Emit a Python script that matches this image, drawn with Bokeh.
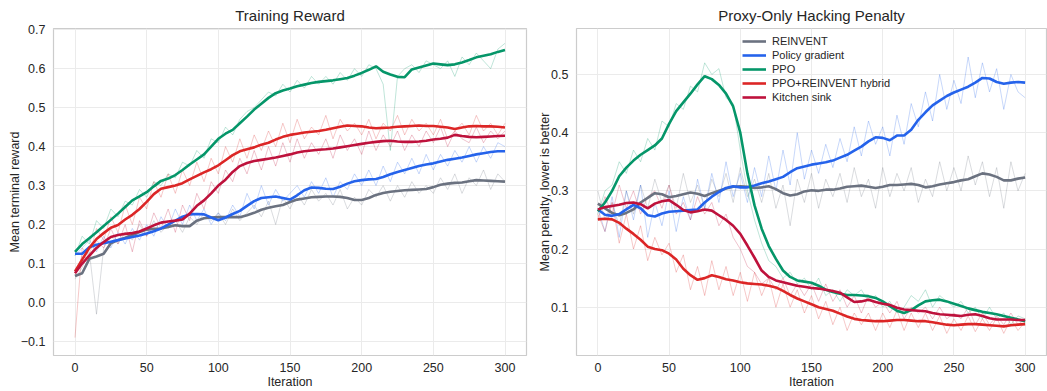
from bokeh.plotting import figure
from bokeh.layouts import row
from bokeh.models import Range1d, FixedTicker
from bokeh.embed import file_html
from bokeh.resources import INLINE

# ---------------- data ----------------
iterations = list(range(0, 301, 5))
methods = ["REINVENT", "Policy gradient", "PPO", "PPO+REINVENT hybrid", "Kitchen sink"]
colors = ["#6b7280", "#2563eb", "#059669", "#dc2626", "#be123c"]

x_ticks = [0, 50, 100, 150, 200, 250, 300]
x_tick_labels = ["0", "50", "100", "150", "200", "250", "300"]
reward_y_ticks = [-0.1, 0.0, 0.1, 0.2, 0.3, 0.4, 0.5, 0.6, 0.7]
reward_y_tick_labels = ["\u22120.1", "0.0", "0.1", "0.2", "0.3", "0.4", "0.5", "0.6", "0.7"]
penalty_y_ticks = [0.1, 0.2, 0.3, 0.4, 0.5]
penalty_y_tick_labels = ["0.1", "0.2", "0.3", "0.4", "0.5"]

# ---- Training reward: smoothed ----
reward_smooth_reinvent = [
    0.068, 0.075, 0.112, 0.118, 0.125, 0.152, 0.160, 0.166, 0.173, 0.181,
    0.187, 0.189, 0.190, 0.194, 0.198, 0.196, 0.196, 0.210, 0.216, 0.218,
    0.219, 0.219, 0.219, 0.219, 0.224, 0.230, 0.238, 0.243, 0.247, 0.250,
    0.258, 0.264, 0.267, 0.270, 0.271, 0.272, 0.272, 0.271, 0.268, 0.263,
    0.263, 0.268, 0.276, 0.281, 0.284, 0.286, 0.288, 0.289, 0.290, 0.291,
    0.296, 0.302, 0.305, 0.307, 0.308, 0.311, 0.314, 0.313, 0.312, 0.311,
    0.310]
reward_smooth_pg = [
    0.125, 0.125, 0.142, 0.148, 0.152, 0.156, 0.160, 0.164, 0.168, 0.172,
    0.177, 0.183, 0.190, 0.200, 0.210, 0.220, 0.226, 0.227, 0.226, 0.218,
    0.211, 0.218, 0.227, 0.235, 0.248, 0.260, 0.268, 0.270, 0.272, 0.268,
    0.264, 0.275, 0.288, 0.295, 0.294, 0.292, 0.291, 0.297, 0.305, 0.311,
    0.314, 0.316, 0.317, 0.322, 0.329, 0.335, 0.340, 0.345, 0.350, 0.354,
    0.357, 0.362, 0.366, 0.369, 0.372, 0.376, 0.380, 0.383, 0.386, 0.388,
    0.388]
reward_smooth_ppo = [
    0.130, 0.150, 0.165, 0.180, 0.196, 0.212, 0.228, 0.245, 0.262, 0.272,
    0.283, 0.298, 0.312, 0.318, 0.327, 0.340, 0.354, 0.367, 0.380, 0.400,
    0.420, 0.433, 0.443, 0.460, 0.477, 0.495, 0.510, 0.525, 0.537, 0.544,
    0.549, 0.555, 0.559, 0.563, 0.566, 0.568, 0.570, 0.573, 0.576, 0.582,
    0.589, 0.597, 0.606, 0.592, 0.585, 0.579, 0.578, 0.598, 0.603, 0.608,
    0.613, 0.611, 0.609, 0.611, 0.616, 0.622, 0.629, 0.633, 0.637, 0.643,
    0.648]
reward_smooth_hybrid = [
    0.080, 0.110, 0.140, 0.163, 0.178, 0.192, 0.199, 0.213, 0.225, 0.240,
    0.258, 0.278, 0.292, 0.296, 0.300, 0.306, 0.316, 0.325, 0.334, 0.342,
    0.352, 0.365, 0.378, 0.388, 0.393, 0.398, 0.405, 0.410, 0.418, 0.425,
    0.430, 0.433, 0.436, 0.438, 0.440, 0.443, 0.447, 0.451, 0.454, 0.453,
    0.452, 0.449, 0.447, 0.448, 0.449, 0.451, 0.452, 0.453, 0.454, 0.453,
    0.453, 0.451, 0.449, 0.445, 0.449, 0.452, 0.453, 0.452, 0.452, 0.451,
    0.449]
reward_smooth_kitchen = [
    0.075, 0.100, 0.120, 0.140, 0.155, 0.168, 0.173, 0.176, 0.178, 0.182,
    0.190, 0.198, 0.205, 0.208, 0.210, 0.213, 0.228, 0.248, 0.262, 0.280,
    0.300, 0.315, 0.335, 0.350, 0.358, 0.363, 0.366, 0.369, 0.372, 0.376,
    0.380, 0.385, 0.388, 0.390, 0.392, 0.393, 0.395, 0.398, 0.401, 0.404,
    0.407, 0.410, 0.412, 0.414, 0.415, 0.413, 0.412, 0.412, 0.413, 0.415,
    0.418, 0.420, 0.423, 0.430, 0.427, 0.425, 0.424, 0.425, 0.426, 0.427,
    0.428]

# ---- Training reward: raw ----
reward_raw_reinvent = [
    0.060, 0.090, 0.130, -0.030, 0.140, 0.170, 0.150, 0.180, 0.160, 0.200,
    0.170, 0.210, 0.180, 0.200, 0.210, 0.180, 0.220, 0.200, 0.230, 0.210,
    0.230, 0.200, 0.240, 0.210, 0.230, 0.250, 0.220, 0.260, 0.200, 0.270,
    0.240, 0.280, 0.250, 0.290, 0.260, 0.280, 0.250, 0.290, 0.240, 0.270,
    0.250, 0.290, 0.270, 0.300, 0.260, 0.300, 0.270, 0.310, 0.280, 0.300,
    0.280, 0.320, 0.290, 0.330, 0.280, 0.320, 0.300, 0.340, 0.290, 0.330,
    0.310]
reward_raw_pg = [
    0.120, 0.140, 0.160, 0.130, 0.170, 0.140, 0.180, 0.150, 0.190, 0.160,
    0.200, 0.170, 0.220, 0.190, 0.240, 0.200, 0.250, 0.210, 0.240, 0.200,
    0.230, 0.210, 0.250, 0.220, 0.280, 0.240, 0.300, 0.250, 0.290, 0.260,
    0.280, 0.300, 0.270, 0.310, 0.280, 0.320, 0.270, 0.310, 0.290, 0.330,
    0.300, 0.340, 0.300, 0.350, 0.310, 0.360, 0.330, 0.370, 0.330, 0.380,
    0.340, 0.380, 0.350, 0.390, 0.360, 0.400, 0.360, 0.400, 0.370, 0.410,
    0.400]
reward_raw_ppo = [
    0.120, 0.170, 0.150, 0.210, 0.190, 0.240, 0.220, 0.260, 0.250, 0.290,
    0.270, 0.310, 0.300, 0.330, 0.320, 0.360, 0.350, 0.390, 0.370, 0.420,
    0.410, 0.450, 0.430, 0.470, 0.490, 0.500, 0.520, 0.540, 0.530, 0.560,
    0.540, 0.570, 0.550, 0.580, 0.560, 0.580, 0.560, 0.590, 0.570, 0.600,
    0.580, 0.610, 0.600, 0.560, 0.390, 0.580, 0.600, 0.610, 0.590, 0.620,
    0.610, 0.600, 0.620, 0.580, 0.630, 0.610, 0.640, 0.620, 0.600, 0.650,
    0.665]
reward_raw_hybrid = [
    -0.090, 0.140, 0.120, 0.190, 0.160, 0.220, 0.180, 0.250, 0.200, 0.270,
    0.240, 0.310, 0.270, 0.330, 0.280, 0.340, 0.300, 0.360, 0.310, 0.370,
    0.330, 0.400, 0.360, 0.420, 0.370, 0.430, 0.390, 0.440, 0.400, 0.460,
    0.410, 0.470, 0.420, 0.450, 0.430, 0.480, 0.420, 0.470, 0.440, 0.460,
    0.430, 0.470, 0.420, 0.460, 0.440, 0.480, 0.430, 0.470, 0.440, 0.460,
    0.430, 0.470, 0.420, 0.440, 0.460, 0.430, 0.480, 0.440, 0.460, 0.430,
    0.460]
reward_raw_kitchen = [
    0.070, 0.120, 0.110, 0.160, 0.140, 0.190, 0.150, 0.200, 0.130, 0.210,
    0.170, 0.230, 0.190, 0.240, 0.180, 0.250, 0.210, 0.280, 0.240, 0.310,
    0.280, 0.340, 0.310, 0.370, 0.330, 0.390, 0.340, 0.400, 0.350, 0.410,
    0.360, 0.420, 0.370, 0.410, 0.380, 0.420, 0.370, 0.430, 0.390, 0.420,
    0.380, 0.440, 0.390, 0.430, 0.400, 0.440, 0.390, 0.430, 0.400, 0.440,
    0.410, 0.450, 0.400, 0.440, 0.420, 0.410, 0.450, 0.410, 0.440, 0.420,
    0.440]

# ---- Proxy-only hacking penalty: smoothed ----
penalty_smooth_reinvent = [
    0.278, 0.270, 0.262, 0.258, 0.262, 0.268, 0.280, 0.288, 0.296, 0.294,
    0.289, 0.291, 0.294, 0.297, 0.295, 0.291, 0.296, 0.300, 0.304, 0.307,
    0.308, 0.307, 0.305, 0.306, 0.308, 0.303, 0.296, 0.292, 0.294, 0.299,
    0.301, 0.300, 0.302, 0.302, 0.304, 0.307, 0.308, 0.309, 0.307, 0.305,
    0.307, 0.310, 0.310, 0.311, 0.312, 0.310, 0.306, 0.308, 0.311, 0.313,
    0.315, 0.318, 0.320, 0.325, 0.330, 0.328, 0.324, 0.318, 0.318, 0.321,
    0.323]
penalty_smooth_pg = [
    0.268, 0.259, 0.257, 0.260, 0.268, 0.276, 0.270, 0.258, 0.256, 0.261,
    0.264, 0.265, 0.266, 0.267, 0.268, 0.280, 0.290, 0.298, 0.305, 0.308,
    0.306, 0.306, 0.309, 0.313, 0.316, 0.320, 0.324, 0.332, 0.339, 0.342,
    0.345, 0.347, 0.349, 0.352, 0.357, 0.362, 0.369, 0.376, 0.385, 0.392,
    0.391, 0.387, 0.395, 0.395, 0.405, 0.422, 0.435, 0.447, 0.455, 0.463,
    0.469, 0.474, 0.479, 0.486, 0.494, 0.493, 0.487, 0.484, 0.486, 0.487,
    0.486]
penalty_smooth_ppo = [
    0.265, 0.280, 0.300, 0.325, 0.340, 0.352, 0.362, 0.370, 0.378, 0.390,
    0.415, 0.437, 0.452, 0.467, 0.483, 0.497, 0.492, 0.482, 0.467, 0.445,
    0.400, 0.330, 0.275, 0.235, 0.205, 0.183, 0.163, 0.152, 0.146, 0.144,
    0.142, 0.137, 0.130, 0.126, 0.123, 0.121, 0.121, 0.120, 0.119, 0.116,
    0.110, 0.102, 0.094, 0.090, 0.095, 0.103, 0.110, 0.112, 0.113, 0.110,
    0.106, 0.102, 0.098, 0.095, 0.092, 0.090, 0.088, 0.085, 0.082, 0.079,
    0.076]
penalty_smooth_hybrid = [
    0.251, 0.252, 0.251, 0.245, 0.235, 0.226, 0.216, 0.204, 0.200, 0.198,
    0.192, 0.182, 0.166, 0.155, 0.147, 0.150, 0.155, 0.152, 0.148, 0.146,
    0.143, 0.141, 0.140, 0.139, 0.137, 0.134, 0.128, 0.121, 0.115, 0.110,
    0.105, 0.100, 0.097, 0.094, 0.089, 0.084, 0.080, 0.078, 0.077, 0.076,
    0.076, 0.077, 0.078, 0.078, 0.077, 0.076, 0.076, 0.074, 0.072, 0.070,
    0.069, 0.070, 0.071, 0.071, 0.070, 0.069, 0.068, 0.067, 0.069, 0.070,
    0.071]
penalty_smooth_kitchen = [
    0.268, 0.272, 0.274, 0.276, 0.279, 0.280, 0.277, 0.270, 0.278, 0.282,
    0.284, 0.276, 0.267, 0.263, 0.265, 0.268, 0.266, 0.258, 0.250, 0.240,
    0.226, 0.206, 0.185, 0.163, 0.152, 0.146, 0.143, 0.140, 0.137, 0.135,
    0.133, 0.132, 0.130, 0.128, 0.125, 0.117, 0.109, 0.110, 0.113, 0.109,
    0.106, 0.104, 0.099, 0.096, 0.095, 0.094, 0.093, 0.090, 0.088, 0.087,
    0.086, 0.085, 0.087, 0.088, 0.085, 0.081, 0.079, 0.079, 0.079, 0.078,
    0.078]

# ---- Proxy-only hacking penalty: raw ----
penalty_raw_reinvent = [
    0.300, 0.250, 0.280, 0.240, 0.300, 0.260, 0.310, 0.270, 0.320, 0.280,
    0.310, 0.270, 0.330, 0.280, 0.310, 0.270, 0.320, 0.290, 0.330, 0.280,
    0.340, 0.290, 0.320, 0.280, 0.330, 0.270, 0.310, 0.240, 0.320, 0.280,
    0.330, 0.270, 0.320, 0.290, 0.330, 0.280, 0.340, 0.290, 0.320, 0.270,
    0.340, 0.290, 0.330, 0.300, 0.340, 0.280, 0.320, 0.290, 0.350, 0.300,
    0.340, 0.300, 0.360, 0.310, 0.350, 0.290, 0.340, 0.270, 0.350, 0.300,
    0.330]
penalty_raw_pg = [
    0.270, 0.230, 0.290, 0.220, 0.300, 0.250, 0.310, 0.220, 0.280, 0.240,
    0.300, 0.230, 0.290, 0.250, 0.320, 0.270, 0.330, 0.280, 0.350, 0.290,
    0.330, 0.280, 0.340, 0.290, 0.360, 0.300, 0.370, 0.310, 0.400, 0.320,
    0.370, 0.330, 0.380, 0.340, 0.390, 0.350, 0.410, 0.360, 0.420, 0.380,
    0.410, 0.360, 0.430, 0.380, 0.450, 0.410, 0.470, 0.420, 0.500, 0.440,
    0.490, 0.450, 0.530, 0.460, 0.520, 0.470, 0.510, 0.440, 0.500, 0.470,
    0.460]
penalty_raw_ppo = [
    0.260, 0.300, 0.310, 0.350, 0.330, 0.370, 0.350, 0.390, 0.370, 0.420,
    0.410, 0.450, 0.440, 0.480, 0.470, 0.520, 0.500, 0.510, 0.460, 0.450,
    0.370, 0.300, 0.250, 0.210, 0.180, 0.170, 0.150, 0.160, 0.140, 0.150,
    0.130, 0.150, 0.120, 0.130, 0.110, 0.130, 0.120, 0.130, 0.110, 0.120,
    0.100, 0.110, 0.090, 0.100, 0.120, 0.110, 0.130, 0.100, 0.120, 0.110,
    0.100, 0.110, 0.090, 0.100, 0.080, 0.100, 0.080, 0.090, 0.070, 0.085,
    0.080]
penalty_raw_hybrid = [
    0.260, 0.230, 0.280, 0.210, 0.260, 0.200, 0.240, 0.180, 0.220, 0.190,
    0.210, 0.160, 0.190, 0.130, 0.170, 0.120, 0.180, 0.130, 0.170, 0.120,
    0.160, 0.110, 0.160, 0.120, 0.150, 0.100, 0.140, 0.100, 0.130, 0.090,
    0.120, 0.080, 0.110, 0.070, 0.100, 0.060, 0.090, 0.070, 0.090, 0.060,
    0.090, 0.065, 0.095, 0.060, 0.090, 0.065, 0.090, 0.060, 0.085, 0.055,
    0.080, 0.060, 0.085, 0.058, 0.080, 0.060, 0.082, 0.055, 0.080, 0.060,
    0.075]
penalty_raw_kitchen = [
    0.250, 0.290, 0.260, 0.310, 0.270, 0.300, 0.260, 0.290, 0.300, 0.270,
    0.310, 0.260, 0.280, 0.250, 0.290, 0.260, 0.280, 0.240, 0.260, 0.220,
    0.200, 0.170, 0.160, 0.140, 0.150, 0.130, 0.150, 0.120, 0.140, 0.120,
    0.140, 0.110, 0.140, 0.110, 0.130, 0.100, 0.120, 0.090, 0.120, 0.100,
    0.110, 0.090, 0.110, 0.080, 0.100, 0.090, 0.100, 0.080, 0.100, 0.080,
    0.090, 0.080, 0.100, 0.070, 0.090, 0.070, 0.085, 0.070, 0.090, 0.070,
    0.080]

reward_smooth = [reward_smooth_reinvent, reward_smooth_pg, reward_smooth_ppo,
                 reward_smooth_hybrid, reward_smooth_kitchen]
reward_raw = [reward_raw_reinvent, reward_raw_pg, reward_raw_ppo,
              reward_raw_hybrid, reward_raw_kitchen]
penalty_smooth = [penalty_smooth_reinvent, penalty_smooth_pg, penalty_smooth_ppo,
                  penalty_smooth_hybrid, penalty_smooth_kitchen]
penalty_raw = [penalty_raw_reinvent, penalty_raw_pg, penalty_raw_ppo,
               penalty_raw_hybrid, penalty_raw_kitchen]

for group in (reward_smooth, reward_raw, penalty_smooth, penalty_raw):
    for s in group:
        assert len(s) == len(iterations), (len(s), len(iterations))

FONT = "Liberation Sans"
TEXT = "#262626"
HEIGHT = 391


def make_panel(title, ylabel, smooth, raw, yr, yticks, ylabels, width,
               border_left, border_right, legend=False):
    p = figure(width=width, height=HEIGHT, output_backend="svg", toolbar_location=None,
               x_range=Range1d(-15, 315), y_range=Range1d(*yr),
               min_border_left=border_left, min_border_right=border_right,
               min_border_top=28, min_border_bottom=0)
    p.title.text = title
    p.title.align = "center"
    p.title.text_font = FONT
    p.title.text_font_size = "15px"
    p.title.text_font_style = "normal"
    p.title.text_color = TEXT
    p.title.standoff = 9
    p.background_fill_color = "white"
    p.border_fill_color = "white"
    p.outline_line_color = "#cccccc"
    p.outline_line_width = 1.2

    for i in range(len(methods)):
        p.line(iterations, raw[i], color=colors[i], line_width=1, line_alpha=0.25)
    for i in range(len(methods)):
        kw = dict(legend_label=methods[i]) if legend else {}
        p.line(iterations, smooth[i], color=colors[i], line_width=2.6, **kw)

    p.xaxis.ticker = FixedTicker(ticks=x_ticks)
    p.xaxis.major_label_overrides = {t: l for t, l in zip(x_ticks, x_tick_labels)}
    p.yaxis.ticker = FixedTicker(ticks=yticks)
    p.yaxis.major_label_overrides = {t: l for t, l in zip(yticks, ylabels)}
    p.xaxis.axis_label = "Iteration"
    p.yaxis.axis_label = ylabel
    for ax in (p.xaxis[0], p.yaxis[0]):
        ax.axis_line_color = None
        ax.major_tick_line_color = None
        ax.minor_tick_line_color = None
        ax.major_label_text_font = FONT
        ax.major_label_text_font_size = "12.5px"
        ax.major_label_text_color = TEXT
        ax.axis_label_text_font = FONT
        ax.axis_label_text_font_size = "12.5px"
        ax.axis_label_text_font_style = "normal"
        ax.axis_label_text_color = TEXT
    p.xaxis.major_label_standoff = 1
    p.xaxis.axis_label_standoff = 0
    p.yaxis.major_label_standoff = 2
    p.yaxis.axis_label_standoff = -4
    p.grid.grid_line_color = "#ebebeb"
    p.grid.grid_line_width = 1

    if legend:
        lg = p.legend[0]
        lg.location = (166, 251)
        lg.background_fill_alpha = 0
        lg.border_line_alpha = 0
        lg.label_text_font = FONT
        lg.label_text_font_size = "11px"
        lg.label_text_color = TEXT
        lg.glyph_width = 24
        lg.glyph_height = 14
        lg.label_height = 14
        lg.label_standoff = 6
        lg.spacing = 0
        lg.padding = 0
        lg.margin = 0
    return p


p1 = make_panel("Training Reward", "Mean terminal reward", reward_smooth, reward_raw,
                (-0.136, 0.703), reward_y_ticks, reward_y_tick_labels, 535, 53, 9)
p2 = make_panel("Proxy-Only Hacking Penalty", "Mean penalty, lower is better",
                penalty_smooth, penalty_raw, (0.017, 0.579), penalty_y_ticks,
                penalty_y_tick_labels, 512, 40, 1, legend=True)

layout = row(p1, p2)
open("out.html", "w").write(file_html(layout, INLINE))
